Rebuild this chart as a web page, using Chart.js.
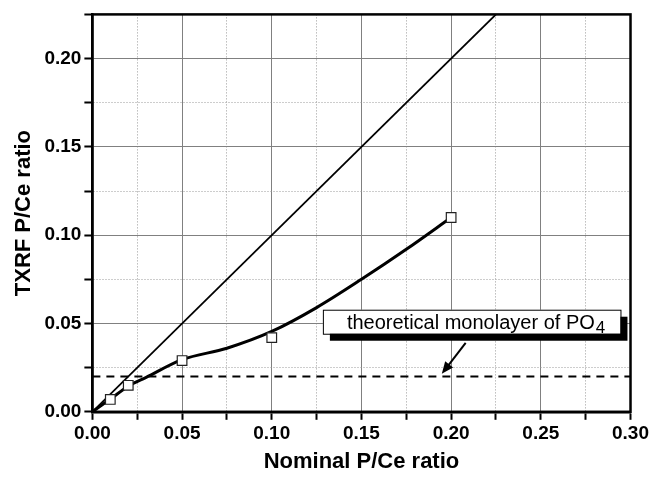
<!DOCTYPE html>
<html>
<head>
<meta charset="utf-8">
<script src="https://cdn.jsdelivr.net/npm/chart.js@4/dist/chart.umd.min.js"></script>
<style>
  html, body { margin: 0; padding: 0; background: #fff; }
  #wrap { width: 652px; height: 477px; }
</style>
</head>
<body>
<div id="wrap"><canvas id="txrfChart" width="652" height="477"></canvas></div>
<script>
// measured samples
const nominalRatio = [0.01, 0.02, 0.05, 0.10, 0.20];
const txrfRatio = [0.007, 0.015, 0.029, 0.042, 0.110];

// fitted curve
const fitX = [0, 0.01, 0.02, 0.03, 0.05, 0.075, 0.10, 0.125, 0.15, 0.175, 0.20];
const fitY = [0, 0.0072, 0.0145, 0.0195, 0.0295, 0.036, 0.0455, 0.059, 0.075, 0.092, 0.110];

// 1:1 reference line and monolayer level
const diagX = [0, 0.30];
const diagY = [0, 0.30];
const monolayerX = [0, 0.30];
const monolayerY = [0.02, 0.02];

const noteText = 'theoretical monolayer of PO';
const noteSub = '4';

const toPts = (xs, ys) => xs.map((x, i) => ({ x: x, y: ys[i] }));
const isMajor = v => Math.round(v * 1000) % 50 === 0;

const frame = {
    id: 'frame',
    afterDatasetsDraw(chart) {
        const { ctx, chartArea: a, scales } = chart;
        ctx.save();
        ctx.strokeStyle = '#000';
        ctx.lineWidth = 2.5;
        ctx.strokeRect(a.left, a.top, a.right - a.left, a.bottom - a.top);

        // label box with drop shadow
        const x = scales.x, y = scales.y;
        const bx = x.getPixelForValue(0.1285), by = y.getPixelForValue(0.0578);
        const bw = x.getPixelForValue(0.2944) - bx, bh = y.getPixelForValue(0.0442) - by;
        ctx.fillStyle = '#000';
        ctx.fillRect(bx + 7, by + 7, bw, bh);
        ctx.fillStyle = '#fff';
        ctx.fillRect(bx, by, bw, bh);
        ctx.lineWidth = 1;
        ctx.strokeRect(bx + 0.5, by + 0.5, bw, bh);
        ctx.fillStyle = '#000';
        ctx.font = '20px "Liberation Sans", Arial, sans-serif';
        ctx.textBaseline = 'alphabetic';
        ctx.fillText(noteText, bx + 24, by + 19);
        const tw = ctx.measureText(noteText).width;
        ctx.font = '17px "Liberation Sans", Arial, sans-serif';
        ctx.fillText(noteSub, bx + 24 + tw + 1, by + 23);

        // arrow
        const x0 = x.getPixelForValue(0.2081), y0 = y.getPixelForValue(0.039);
        const x1 = x.getPixelForValue(0.1948), y1 = y.getPixelForValue(0.0215);
        const ang = Math.atan2(y1 - y0, x1 - x0);
        ctx.lineWidth = 2;
        ctx.beginPath();
        ctx.moveTo(x0, y0);
        ctx.lineTo(x1 - 6 * Math.cos(ang), y1 - 6 * Math.sin(ang));
        ctx.stroke();
        ctx.beginPath();
        ctx.moveTo(x1, y1);
        ctx.lineTo(x1 - 12 * Math.cos(ang) + 5 * Math.sin(ang), y1 - 12 * Math.sin(ang) - 5 * Math.cos(ang));
        ctx.lineTo(x1 - 12 * Math.cos(ang) - 5 * Math.sin(ang), y1 - 12 * Math.sin(ang) + 5 * Math.cos(ang));
        ctx.closePath();
        ctx.fill();
        ctx.restore();
    }
};

const tickFont = { family: '"Liberation Sans", Arial, sans-serif', size: 19, weight: 'bold' };
const titleFont = { family: '"Liberation Sans", Arial, sans-serif', size: 22, weight: 'bold' };

const axis = (min, max, title) => ({
    type: 'linear',
    min: min,
    max: max,
    ticks: {
        stepSize: 0.025,
        autoSkip: false,
        maxRotation: 0,
        color: '#000',
        font: tickFont,
        padding: 3,
        callback: v => isMajor(v) ? v.toFixed(2) : ''
    },
    grid: {
        color: c => c.tick && isMajor(c.tick.value) ? '#808080' : '#9a9a9a',
        lineWidth: 1,
        tickLength: 8,
        tickColor: '#000',
        tickWidth: 2
    },
    border: {
        color: '#000',
        width: 2.5,
        dash: c => c.tick && !isMajor(c.tick.value) ? [1, 2] : []
    },
    title: { display: true, text: title, color: '#000', font: titleFont }
});

const xAxis = axis(0, 0.30, 'Nominal P/Ce ratio');
xAxis.title.padding = { top: 0, bottom: 0 };
const yAxis = axis(0, 0.225, 'TXRF P/Ce ratio');
yAxis.ticks.padding = 3;
yAxis.title.padding = { top: 0, bottom: 4 };

new Chart(document.getElementById('txrfChart'), {
    type: 'line',
    data: {
        datasets: [
            {
                label: 'measured',
                data: toPts(nominalRatio, txrfRatio),
                showLine: false,
                pointStyle: 'rect',
                pointRadius: 6.8,
                pointBackgroundColor: '#fff',
                pointBorderColor: '#222',
                pointBorderWidth: 1.2
            },
            {
                label: 'fit',
                data: toPts(fitX, fitY),
                borderColor: '#000',
                borderWidth: 3,
                pointRadius: 0,
                cubicInterpolationMode: 'monotone'
            },
            {
                label: '1:1',
                data: toPts(diagX, diagY),
                borderColor: '#000',
                borderWidth: 1.8,
                pointRadius: 0
            },
            {
                label: 'monolayer',
                data: toPts(monolayerX, monolayerY),
                borderColor: '#000',
                borderWidth: 2,
                borderDash: [8, 6],
                pointRadius: 0
            }
        ]
    },
    options: {
        responsive: false,
        animation: false,
        layout: { padding: { top: 11, right: 0, left: 11, bottom: 2 } },
        plugins: {
            legend: { display: false },
            tooltip: { enabled: false }
        },
        scales: { x: xAxis, y: yAxis }
    },
    plugins: [frame]
});
</script>
</body>
</html>
